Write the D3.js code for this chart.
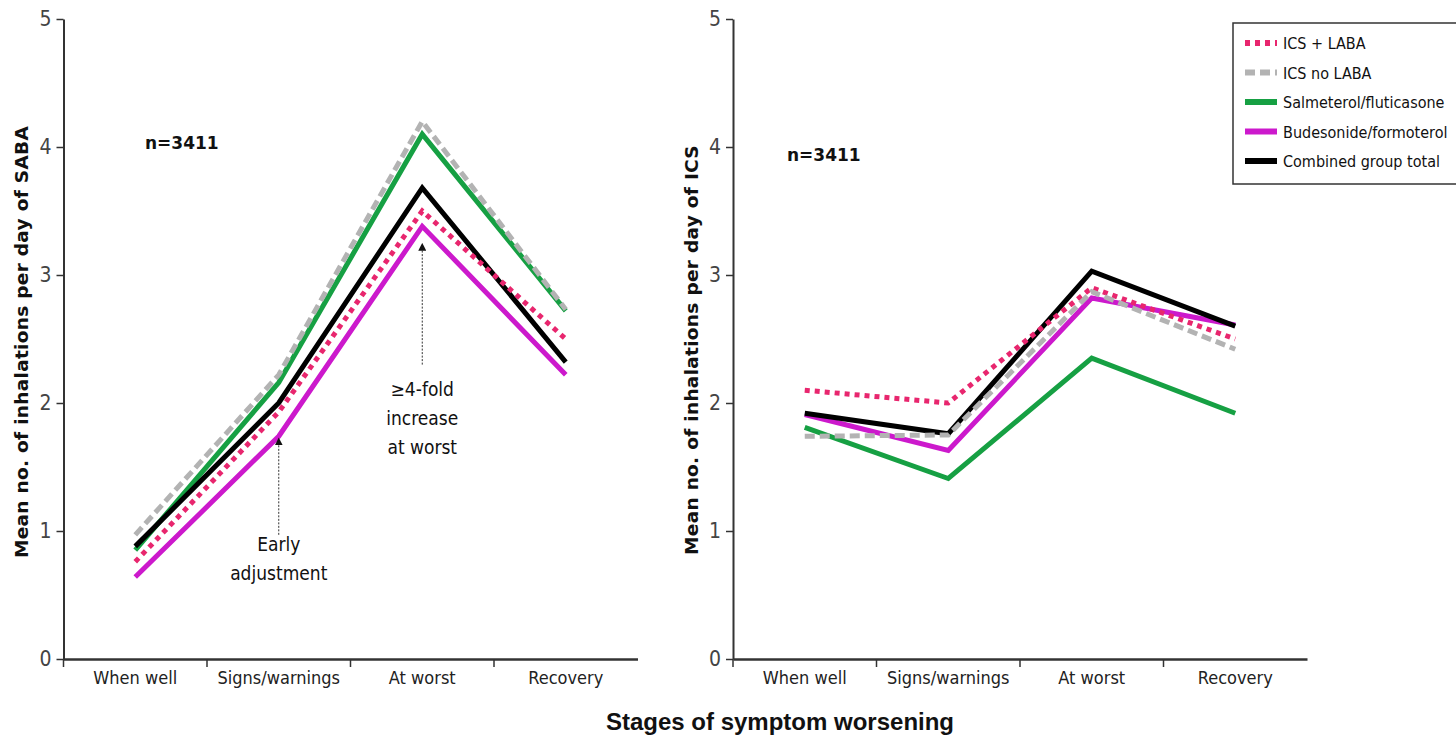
<!DOCTYPE html>
<html>
<head>
<meta charset="utf-8">
<script src="https://cdn.jsdelivr.net/npm/d3@7"></script>
<style>
  body { margin: 0; background: #fff; }
  .cat { font-family: "Liberation Sans Narrow", "DejaVu Sans Condensed", sans-serif; }
</style>
</head>
<body>
<script>
// stages on the x axis
const stages = ["When well", "Signs/warnings", "At worst", "Recovery"];
const yTicks = [0, 1, 2, 3, 4, 5];
const seriesNames = ["ICS + LABA", "ICS no LABA", "Salmeterol/fluticasone", "Budesonide/formoterol", "Combined group total"];

// left panel: SABA inhalations per day
const sabaIcsLaba   = [0.76, 1.93, 3.50, 2.50];
const sabaIcsNoLaba = [0.97, 2.22, 4.20, 2.73];
const sabaSalFlu    = [0.85, 2.16, 4.10, 2.72];
const sabaBudFor    = [0.64, 1.74, 3.38, 2.22];
const sabaCombined  = [0.88, 2.00, 3.68, 2.32];

// right panel: ICS inhalations per day
const icsIcsLaba   = [2.10, 2.00, 2.90, 2.50];
const icsIcsNoLaba = [1.74, 1.75, 2.87, 2.42];
const icsSalFlu    = [1.81, 1.41, 2.35, 1.92];
const icsBudFor    = [1.91, 1.63, 2.82, 2.61];
const icsCombined  = [1.92, 1.76, 3.03, 2.60];

const styles = {
  "ICS + LABA":            {color: "#e8266e", dash: "5,5", width: 5},
  "ICS no LABA":           {color: "#b3b3b3", dash: "10,5", width: 5},
  "Salmeterol/fluticasone":{color: "#16a043", dash: null, width: 5},
  "Budesonide/formoterol": {color: "#cc19cc", dash: null, width: 5},
  "Combined group total":  {color: "#000000", dash: null, width: 5}
};
// draw order (bottom first)
const drawOrder = ["Salmeterol/fluticasone", "Budesonide/formoterol", "Combined group total", "ICS + LABA", "ICS no LABA"];

const svg = d3.select("body").append("svg")
    .attr("width", 1456)
    .attr("height", 737);

function drawPanel(left, series, yTitle, titleX, titleY, noteX, noteY) {
  const g = svg.append("g");
  const x = d3.scaleBand().domain(stages).range([left, left + 574]);
  const y = d3.scaleLinear().domain([0, 5]).range([659, 19]);

  // y axis
  const yAxis = g.append("g")
      .attr("transform", `translate(${left},0)`)
      .call(d3.axisLeft(y).tickValues(yTicks).tickFormat(d3.format("d")).tickSize(7).tickSizeOuter(0).tickPadding(5));
  yAxis.select(".domain").attr("stroke", "#333").attr("stroke-width", 2);
  yAxis.selectAll(".tick line").attr("stroke", "#333").attr("stroke-width", 1.5);
  yAxis.selectAll(".tick text")
      .attr("class", "cat")
      .attr("font-size", 21)
      .attr("fill", "#444");

  // x axis labels (centred in bands), ticks on band edges
  const xAxis = g.append("g")
      .attr("transform", "translate(0,659)")
      .call(d3.axisBottom(x).tickSize(0).tickPadding(12));
  xAxis.select(".domain").attr("stroke", "#333").attr("stroke-width", 2.5);
  xAxis.selectAll(".tick text")
      .attr("class", "cat")
      .attr("font-size", 18)
      .attr("fill", "#222");
  g.selectAll("line.edge")
      .data(stages)
      .join("line")
      .attr("class", "edge")
      .attr("x1", d => x(d)).attr("x2", d => x(d))
      .attr("y1", 659).attr("y2", 667)
      .attr("stroke", "#333").attr("stroke-width", 1.5);

  const line = d3.line()
      .x((d, i) => x(stages[i]) + x.bandwidth() / 2)
      .y(d => y(d));

  drawOrder.forEach(name => {
    const st = styles[name];
    g.append("path")
        .datum(series[name])
        .attr("d", line)
        .attr("fill", "none")
        .attr("stroke", st.color)
        .attr("stroke-width", st.width)
        .attr("stroke-dasharray", st.dash);
  });

  g.append("text")
      .attr("transform", `translate(${titleX},${titleY}) rotate(-90)`)
      .attr("text-anchor", "middle")
      .attr("font-family", "DejaVu Sans, sans-serif")
      .attr("font-weight", "bold")
      .attr("font-size", 18.5)
      .attr("letter-spacing", 0.3)
      .attr("fill", "#111")
      .text(yTitle);

  g.append("text")
      .attr("x", noteX).attr("y", noteY)
      .attr("font-family", "DejaVu Sans, sans-serif")
      .attr("font-weight", "bold")
      .attr("font-size", 17)
      .attr("fill", "#111")
      .text("n=3411");

  return {x, y, g};
}

const leftPanel = drawPanel(63.5, {
  "ICS + LABA": sabaIcsLaba,
  "ICS no LABA": sabaIcsNoLaba,
  "Salmeterol/fluticasone": sabaSalFlu,
  "Budesonide/formoterol": sabaBudFor,
  "Combined group total": sabaCombined
}, "Mean no. of inhalations per day of SABA", 28, 342, 145, 149);

drawPanel(733, {
  "ICS + LABA": icsIcsLaba,
  "ICS no LABA": icsIcsNoLaba,
  "Salmeterol/fluticasone": icsSalFlu,
  "Budesonide/formoterol": icsBudFor,
  "Combined group total": icsCombined
}, "Mean no. of inhalations per day of ICS", 698, 350, 787, 161);

// annotations in left panel
svg.append("defs").append("marker")
    .attr("id", "arrow")
    .attr("viewBox", "0 0 10 10")
    .attr("refX", 5).attr("refY", 5)
    .attr("markerWidth", 8).attr("markerHeight", 8)
    .attr("orient", "auto-start-reverse")
  .append("path")
    .attr("d", "M0,0 L10,5 L0,10 z")
    .attr("fill", "#111");

const annotations = [
  {stage: "Signs/warnings", from: 0.97, to: 1.70, lines: ["Early", "adjustment"], textY: 551},
  {stage: "At worst", from: 2.30, to: 3.22, lines: ["\u22654-fold", "increase", "at worst"], textY: 396}
];
const ax = leftPanel.x, ay = leftPanel.y;
annotations.forEach(a => {
  const cx = ax(a.stage) + ax.bandwidth() / 2;
  svg.append("line")
      .attr("x1", cx).attr("x2", cx)
      .attr("y1", ay(a.from)).attr("y2", ay(a.to))
      .attr("stroke", "#333")
      .attr("stroke-width", 1)
      .attr("stroke-dasharray", "2,1.5")
      .attr("marker-end", "url(#arrow)");
  const t = svg.append("text")
      .attr("class", "cat")
      .attr("text-anchor", "middle")
      .attr("font-size", 19)
      .attr("fill", "#111");
  a.lines.forEach((s, i) => {
    t.append("tspan").attr("x", cx).attr("y", a.textY + i * 29).text(s);
  });
});

// legend
const legend = svg.append("g").attr("transform", "translate(1233,23)");
legend.append("rect")
    .attr("width", 240).attr("height", 161)
    .attr("fill", "#fff")
    .attr("stroke", "#333")
    .attr("stroke-width", 1.5);
seriesNames.forEach((name, i) => {
  const st = styles[name];
  const row = legend.append("g").attr("transform", `translate(0,${20 + i * 29.5})`);
  row.append("line")
      .attr("x1", 12).attr("x2", 44)
      .attr("stroke", st.color)
      .attr("stroke-width", 6)
      .attr("stroke-dasharray", st.dash);
  row.append("text")
      .attr("class", "cat")
      .attr("x", 50).attr("y", 6)
      .attr("font-size", 16)
      .attr("fill", "#111")
      .text(name);
});

// shared x title
svg.append("text")
    .attr("x", 780).attr("y", 730)
    .attr("text-anchor", "middle")
    .attr("font-family", "Liberation Sans, Arial, sans-serif")
    .attr("font-weight", "bold")
    .attr("font-size", 24)
    .attr("fill", "#111")
    .text("Stages of symptom worsening");
</script>
</body>
</html>
